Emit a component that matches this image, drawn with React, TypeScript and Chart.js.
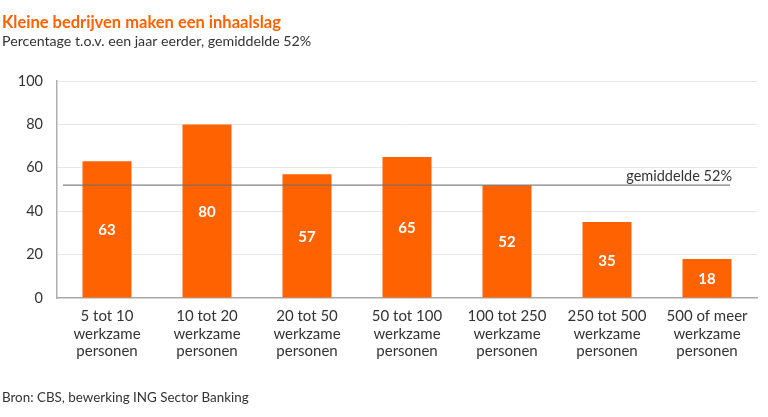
import React, { useEffect, useRef } from "react";
import { Chart, registerables } from "chart.js";

Chart.register(...registerables);

const categories: string[][] = [
  ["5 tot 10", "werkzame", "personen"],
  ["10 tot 20", "werkzame", "personen"],
  ["20 tot 50", "werkzame", "personen"],
  ["50 tot 100", "werkzame", "personen"],
  ["100 tot 250", "werkzame", "personen"],
  ["250 tot 500", "werkzame", "personen"],
  ["500 of meer", "werkzame", "personen"],
];
const values: number[] = [63, 80, 57, 65, 52, 35, 18];
const averageValue = 52;
const averageLabel = "gemiddelde 52%";
const yTicks: number[] = [0, 20, 40, 60, 80, 100];
const titleText = "Kleine bedrijven maken een inhaalslag";
const subtitleText = "Percentage t.o.v. een jaar eerder, gemiddelde 52%";
const sourceText = "Bron: CBS, bewerking ING Sector Banking";

const ORANGE = "#FF6200";
const FONT = "Lato, 'Open Sans', sans-serif";

export default function App() {
  const ref = useRef<HTMLCanvasElement | null>(null);

  useEffect(() => {
    document.body.style.margin = "0";
    const canvas = ref.current;
    if (!canvas) return;

    const textPlugin = {
      id: "texts",
      afterDraw(chart: any) {
        const ctx = chart.ctx;
        ctx.save();
        ctx.textBaseline = "alphabetic";
        ctx.textAlign = "left";
        ctx.fillStyle = ORANGE;
        ctx.font = `bold 16.5px ${FONT}`;
        ctx.fillText(titleText, 2, 28);
        ctx.fillStyle = "#333333";
        ctx.font = `14.2px ${FONT}`;
        ctx.fillText(subtitleText, 2, 46);
        ctx.font = `13.4px ${FONT}`;
        ctx.fillText(sourceText, 2, 402);
        ctx.restore();
      },
    };

    const avgPlugin = {
      id: "avgLine",
      afterDatasetsDraw(chart: any) {
        const ctx = chart.ctx;
        const y = chart.scales.y.getPixelForValue(averageValue);
        const area = chart.chartArea;
        ctx.save();
        ctx.strokeStyle = "rgba(110,110,110,0.85)";
        ctx.lineWidth = 1.2;
        ctx.beginPath();
        ctx.moveTo(area.left + 6, y);
        ctx.lineTo(area.right - 27, y);
        ctx.stroke();
        ctx.fillStyle = "#333333";
        ctx.font = `14.5px ${FONT}`;
        ctx.textAlign = "right";
        ctx.textBaseline = "alphabetic";
        ctx.fillText(averageLabel, area.right - 25, y - 4);
        ctx.restore();
      },
    };

    const labelPlugin = {
      id: "barLabels",
      afterDatasetsDraw(chart: any) {
        const ctx = chart.ctx;
        const meta = chart.getDatasetMeta(0);
        ctx.save();
        ctx.fillStyle = "#ffffff";
        ctx.font = `bold 15px ${FONT}`;
        ctx.textAlign = "center";
        ctx.textBaseline = "middle";
        meta.data.forEach((bar: any, i: number) => {
          const mid = (bar.y + bar.base) / 2;
          ctx.fillText(String(values[i]), bar.x, mid + 1);
        });
        ctx.restore();
      },
    };

    const chart = new Chart(canvas, {
      type: "bar",
      data: {
        labels: categories,
        datasets: [
          {
            data: values,
            backgroundColor: ORANGE,
            barPercentage: 0.49,
            categoryPercentage: 1,
          },
        ],
      },
      options: {
        animation: false,
        responsive: false,
        maintainAspectRatio: false,
        layout: { padding: { left: 0, right: 11, top: 81, bottom: 0 } },
        plugins: {
          legend: { display: false },
          tooltip: { enabled: false },
          title: { display: false },
        },
        scales: {
          x: {
            grid: { display: false, drawTicks: false },
            border: { display: true, color: "#a8a8a8", width: 1.5 },
            ticks: {
              color: "#333333",
              font: { family: FONT, size: 15, lineHeight: 1.15 },
              padding: 10,
              maxRotation: 0,
              autoSkip: false,
            },
            afterFit(scale: any) {
              scale.height = 119;
            },
          },
          y: {
            min: 0,
            max: 100,
            afterBuildTicks(scale: any) {
              scale.ticks = yTicks.map((v) => ({ value: v }));
            },
            grid: {
              color: (c: any) => (c.tick && c.tick.value === 0 ? "rgba(0,0,0,0)" : "#e6e6e6"),
              drawTicks: false,
              lineWidth: 1,
            },
            border: { display: true, color: "#b0b0b0", width: 1.5 },
            ticks: {
              color: "#333333",
              font: { family: FONT, size: 14.5 },
              padding: 14,
            },
            afterFit(scale: any) {
              scale.width = 57;
            },
          },
        },
      },
      plugins: [textPlugin, avgPlugin, labelPlugin],
    });

    return () => chart.destroy();
  }, []);

  return (
    <div style={{ position: "fixed", left: 0, top: 0, width: 768, height: 417, background: "#fff" }}>
      <canvas ref={ref} width={768} height={417} style={{ width: 768, height: 417, display: "block" }} />
    </div>
  );
}
